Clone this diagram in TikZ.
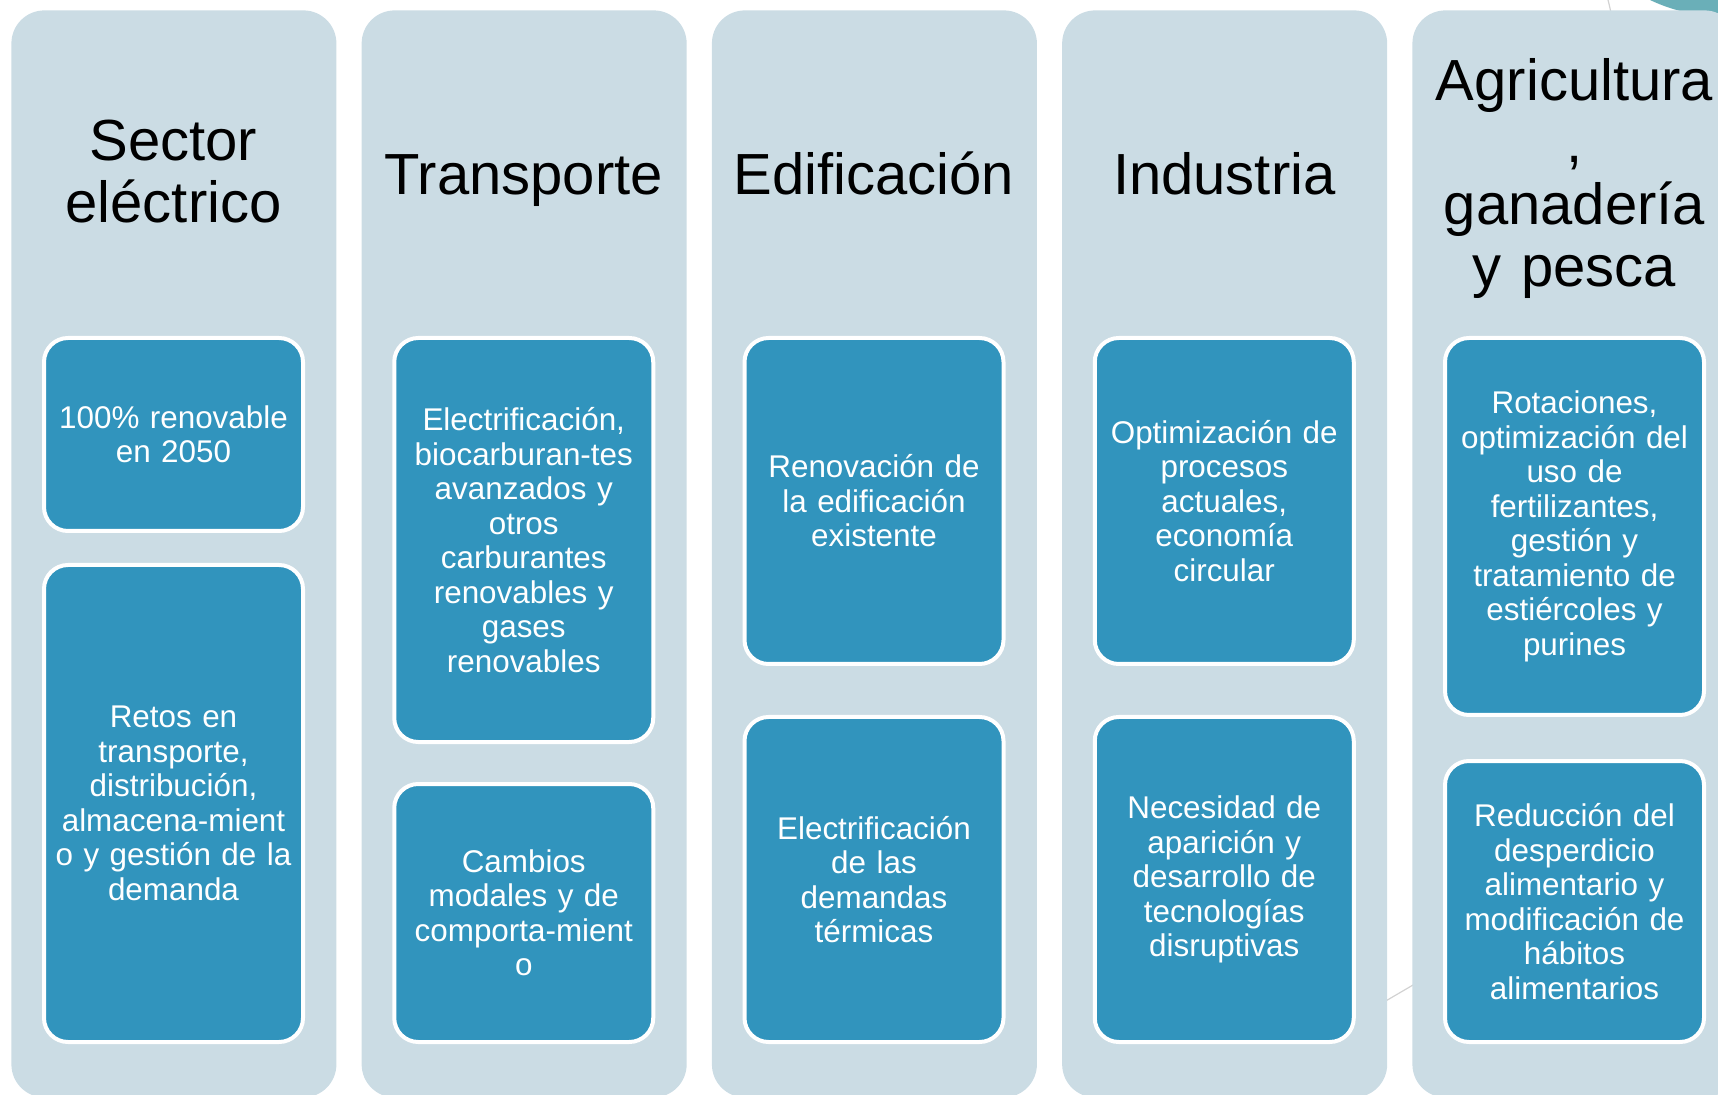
\documentclass[tikz,border=0pt]{standalone}
\usepackage{fontspec}
\setmainfont{Liberation Sans}
\definecolor{grigioazzurro}{RGB}{203,220,228}
\definecolor{azzurro}{RGB}{49,148,189}
\definecolor{verdeacqua}{RGB}{106,175,184}
\begin{document}
\begin{tikzpicture}[x=0.5pt,y=-0.5pt,
    colonna/.style={fill=grigioazzurro, rounded corners=16.5pt, minimum width=162.5pt,
        minimum height=543.5pt, anchor=north west, inner sep=0pt},
    titolo/.style={font=\fontsize{29}{31}\selectfont, align=center, text width=160pt, inner sep=0pt},
    casella/.style={fill=azzurro, draw=white, line width=2pt, rounded corners=12pt,
        minimum width=129.5pt, text width=128pt, align=center, text=white,
        font=\fontsize{15.7}{17.25}\selectfont, inner sep=0pt}]
    % --- Impostazioni ---
    \def\passo{350.25} % distanza fra le colonne
    \def\sinistra{11}  % bordo sinistro della prima colonna

    % --- Cornice ---
    \useasboundingbox (0,0) rectangle (1718,1095);
    \clip (0,0) rectangle (1718,1095);

    % --- Sfondo della diapositiva ---
    \fill[verdeacqua] (1650,0) .. controls (1675,12) and (1700,16) .. (1718,16) -- (1718,0) -- cycle;
    \draw[gray!35, line width=0.6pt] (1608,0) .. controls (1611,12) .. (1615,40);
    \draw[gray!35, line width=0.6pt] (1360,1016) -- (1425,978);

    % --- Colonne dei settori ---
    \foreach \i in {1,...,5}
        \node[colonna] (col\i) at ({\sinistra+\passo*(\i-1)},10) {};

    % --- Titoli ---
    \node[titolo] (tit1) at (173.5,172) {Sector\\eléctrico};
    \node[titolo, anchor=base] (tit2) at (523.75,195) {Transporte};
    \node[titolo, anchor=base] (tit3) at (874,195) {Edificación};
    \node[titolo, anchor=base] (tit4) at (1224.25,195) {Industria};
    \node[titolo] (tit5) at (1574.5,179) {Agricultura\\,\\ganadería\\y pesca};

    % --- Sector eléctrico ---
    \node[casella, minimum height=96.5pt] (ele1) at (173.5,434.5)
        {100\% renovable\\en 2050};
    \node[casella, minimum height=238.5pt] (ele2) at (173.5,803.5)
        {Retos en\\transporte,\\distribución,\\almacena-mient\\o y gestión de la\\demanda};

    % --- Transporte ---
    \node[casella, minimum height=202pt] (tra1) at (523.75,540)
        {Electrificación,\\biocarburan-tes\\avanzados y\\otros\\carburantes\\renovables y\\gases\\renovables};
    \node[casella, minimum height=129pt] (tra2) at (523.75,913)
        {Cambios\\modales y de\\comporta-mient\\o};

    % --- Edificación ---
    \node[casella, minimum height=163pt] (edi1) at (874,501)
        {Renovación de\\la edificación\\existente};
    \node[casella, minimum height=162.5pt] (edi2) at (874,879.5)
        {Electrificación\\de las\\demandas\\térmicas};

    % --- Industria ---
    \node[casella, minimum height=163pt] (ind1) at (1224.25,501)
        {Optimización de\\procesos\\actuales,\\economía\\circular};
    \node[casella, minimum height=162.5pt] (ind2) at (1224.25,879.5)
        {Necesidad de\\aparición y\\desarrollo de\\tecnologías\\disruptivas};

    % --- Agricultura, ganadería y pesca ---
    \node[casella, minimum height=188.5pt] (agr1) at (1574.5,526.5)
        {Rotaciones,\\optimización del\\uso de\\fertilizantes,\\gestión y\\tratamiento de\\estiércoles y\\purines};
    \node[casella, minimum height=140.5pt] (agr2) at (1574.5,901.5)
        {Reducción del\\desperdicio\\alimentario y\\modificación de\\hábitos\\alimentarios};
\end{tikzpicture}
\end{document}
